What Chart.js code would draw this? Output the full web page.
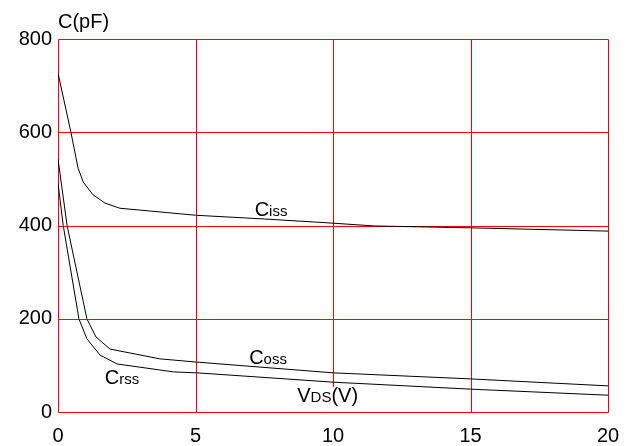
<!DOCTYPE html>
<html>
<head>
<meta charset="utf-8">
<script src="https://cdn.jsdelivr.net/npm/chart.js@4"></script>
<style>
html,body{margin:0;padding:0;background:#fff;}
#wrap{width:633px;height:446px;position:relative;}
</style>
</head>
<body>
<div id="wrap"><canvas id="c" width="633" height="446"></canvas></div>
<script>
// V_DS (V) sample positions and capacitances (pF) per curve
const cissV = [0, 0.47, 0.73, 0.92, 1.27, 1.71, 2.25, 3.35, 5, 7.5, 10, 11.5, 15, 20];
const cissC = [727, 600, 523, 493, 466, 448, 437, 431, 422, 414, 405, 399, 395, 388];
const cossV = [0, 0.33, 1.05, 1.38, 1.89, 3.7, 5.05, 10, 15, 20];
const cossC = [543, 400, 200, 161, 135, 114, 107, 84, 71, 56];
const crssV = [0, 0.19, 0.76, 1.05, 1.53, 2.15, 4.2, 5.05, 10, 15, 20];
const crssC = [491, 400, 200, 157, 122, 103, 86, 84, 64, 49, 36];
const xTicks = [0, 5, 10, 15, 20];
const yTicks = [0, 200, 400, 600, 800];

const FONT = "'Liberation Sans', Arial, sans-serif";
const pts = (xs, ys) => xs.map((v, i) => ({x: v, y: ys[i]}));

const labels = [
  {parts: [["C", 20], ["iss", 15]], x: 7.15, y: 420},
  {parts: [["C", 20], ["oss", 15]], x: 6.95, y: 103},
  {parts: [["C", 20], ["rss", 15]], x: 1.7, y: 60},
];

const grid = {
  id: 'redgrid',
  beforeDatasetsDraw(chart) {
    const ctx = chart.ctx, xs = chart.scales.x, ys = chart.scales.y;
    const top = Math.round(ys.getPixelForValue(800)) + 0.5;
    const bot = Math.round(ys.getPixelForValue(0)) + 0.5;
    const left = Math.round(xs.getPixelForValue(0)) + 0.5;
    const right = Math.round(xs.getPixelForValue(20)) + 0.5;
    ctx.save();
    ctx.strokeStyle = '#ff0000';
    ctx.lineWidth = 1;
    ctx.beginPath();
    xTicks.forEach(v => {
      const p = Math.round(xs.getPixelForValue(v)) + 0.5;
      ctx.moveTo(p, top); ctx.lineTo(p, bot);
    });
    yTicks.forEach(v => {
      const p = Math.round(ys.getPixelForValue(v)) + 0.5;
      ctx.moveTo(left, p); ctx.lineTo(right, p);
    });
    ctx.stroke();
    ctx.restore();
  },
  afterDatasetsDraw(chart) {
    const ctx = chart.ctx, xs = chart.scales.x, ys = chart.scales.y;
    ctx.save();
    ctx.fillStyle = '#000';
    ctx.textBaseline = 'alphabetic';
    ctx.textAlign = 'left';
    const drawParts = (parts, px, py) => {
      let cx = px;
      parts.forEach(([t, s]) => {
        ctx.font = s + 'px ' + FONT;
        ctx.fillText(t, cx, py);
        cx += ctx.measureText(t).width;
      });
      return cx - px;
    };
    labels.forEach(l => drawParts(l.parts, xs.getPixelForValue(l.x), ys.getPixelForValue(l.y)));
    // V_DS(V) axis title with white backing reaching down to the axis
    const vparts = [["V", 20], ["DS", 15], ["(V)", 20]];
    let w = 0;
    vparts.forEach(([t, s]) => { ctx.font = s + 'px ' + FONT; w += ctx.measureText(t).width; });
    const vx = xs.getPixelForValue(8.7), vy = ys.getPixelForValue(21);
    const axisY = Math.round(ys.getPixelForValue(0));
    ctx.fillStyle = '#fff';
    ctx.fillRect(vx - 1, vy - 15, w + 2, axisY - (vy - 15));
    ctx.fillStyle = '#000';
    drawParts(vparts, vx, vy);
    // y-axis title
    ctx.font = '20px ' + FONT;
    ctx.fillText('C(pF)', xs.getPixelForValue(0), ys.getPixelForValue(800) - 11);
    ctx.restore();
  }
};

const ds = (data) => ({
  data, borderColor: '#000', borderWidth: 1, pointRadius: 0, fill: false, tension: 0
});

new Chart(document.getElementById('c'), {
  type: 'line',
  data: { datasets: [ds(pts(cissV, cissC)), ds(pts(cossV, cossC)), ds(pts(crssV, crssC))] },
  options: {
    responsive: false,
    animation: false,
    events: [],
    layout: { padding: { top: 39, right: 25, left: 0, bottom: 0 } },
    plugins: { legend: { display: false }, tooltip: { enabled: false } },
    scales: {
      x: {
        type: 'linear', min: 0, max: 20,
        afterBuildTicks: s => { s.ticks = xTicks.map(v => ({value: v})); },
        afterFit: s => { s.height = 34; },
        grid: { display: false, drawTicks: false },
        border: { display: false },
        ticks: { color: '#000', font: { family: FONT, size: 20 }, padding: 12, maxRotation: 0 }
      },
      y: {
        type: 'linear', min: 0, max: 800,
        afterBuildTicks: s => { s.ticks = yTicks.map(v => ({value: v})); },
        afterFit: s => { s.width = 58; },
        grid: { display: false, drawTicks: false },
        border: { display: false },
        ticks: { color: '#000', font: { family: FONT, size: 20 }, padding: 6 }
      }
    }
  },
  plugins: [grid]
});
</script>
</body>
</html>
